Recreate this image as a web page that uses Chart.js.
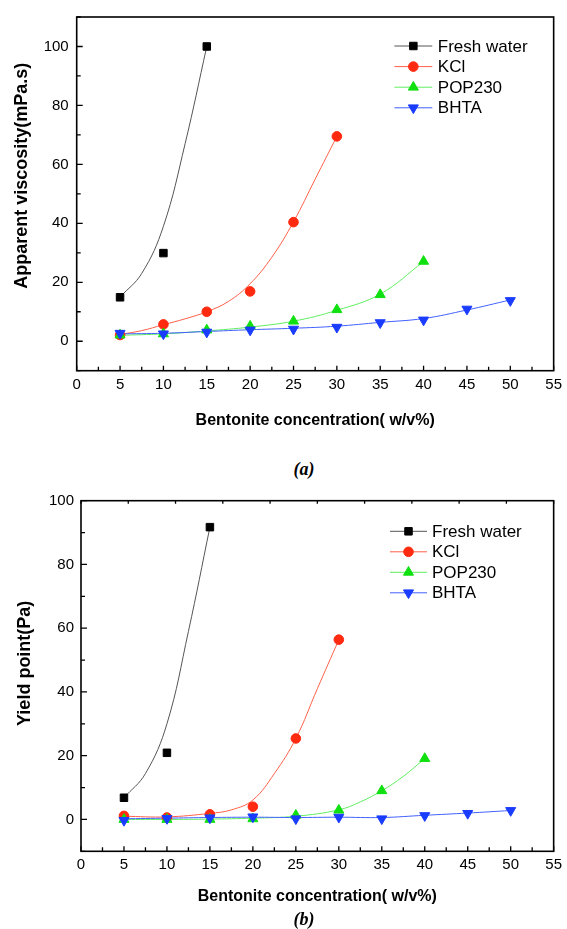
<!DOCTYPE html>
<html>
<head>
<meta charset="utf-8">
<script src="https://cdn.jsdelivr.net/npm/chart.js@4.4.0/dist/chart.umd.min.js"></script>
<style>
  body { margin: 0; background: #fff; width: 567px; height: 929px; position: relative; overflow: hidden; }
  canvas { position: absolute; left: 0; }
  #chartA { top: 0; }
  #chartB { top: 480px; }
  .cap { position: absolute; font: italic bold 18px "Liberation Serif", "Times New Roman", serif; transform: translateX(-50%); }
</style>
</head>
<body>
<canvas id="chartA" width="567" height="445" style="width:567px;height:445px"></canvas>
<canvas id="chartB" width="567" height="449" style="width:567px;height:449px"></canvas>
<div class="cap" style="left:304px;top:459px">(a)</div>
<div class="cap" style="left:304px;top:909px">(b)</div>
<script>
const seriesNames = ["Fresh water", "KCl", "POP230", "BHTA"];

// bentonite concentration (w/v%) for each fluid
const freshConc = [5, 10, 15];
const kclConc = [5, 10, 15, 20, 25, 30];
const popConc = [5, 10, 15, 20, 25, 30, 35, 40];
const bhtaConc = [5, 10, 15, 20, 25, 30, 35, 40, 45, 50];

// (a) apparent viscosity, mPa.s
const viscFresh = [14.9, 29.9, 100];
const viscKcl = [2.1, 5.7, 10, 16.9, 40.4, 69.5];
const viscPop = [2.1, 2.5, 3.8, 5.1, 6.8, 10.7, 15.8, 27.1];
const viscBhta = [2.7, 2.5, 3.1, 3.8, 4.1, 4.75, 6.3, 7.2, 10.9, 13.8];

// (a) fitted curves
const viscFreshFitX = [5, 7.5, 10, 12.5, 15];
const viscFreshFitY = [15, 23, 39, 67, 100];
const viscKclFitX = [5, 7.5, 10, 12.5, 15, 17.5, 20, 22.5, 25, 27.5, 30];
const viscKclFitY = [2.3, 3.6, 5.6, 7.6, 10, 13.5, 19.5, 28.5, 40.5, 55, 69.5];
const viscPopFitX = [5, 10, 15, 20, 25, 30, 35, 40];
const viscPopFitY = [2, 2.5, 3.5, 4.8, 6.8, 10.5, 16, 27];
const viscBhtaFitX = [5, 10, 15, 20, 25, 30, 35, 40, 45, 50];
const viscBhtaFitY = [2.5, 2.7, 3.3, 3.9, 4.4, 5.1, 6.4, 7.7, 10.6, 14];

// (b) yield point, Pa
const yieldFresh = [6.8, 20.9, 91.7];
const yieldKcl = [1.1, 0.6, 1.6, 4.0, 25.4, 56.4];
const yieldPop = [0, 0, 0, 0.2, 1.3, 2.9, 9.0, 19.1];
const yieldBhta = [-0.3, 0.3, 0.5, 0.8, 0.2, 0.7, 0.2, 1.2, 1.9, 2.8];

const yieldFreshFitX = [5, 7.5, 10, 12.5, 15];
const yieldFreshFitY = [6.8, 14.4, 30, 59, 91.7];
const yieldKclFitX = [5, 10, 15, 17.5, 20, 22.5, 25, 27.5, 30];
const yieldKclFitY = [1.0, 0.8, 1.9, 3.0, 6.1, 14.4, 25.4, 41.0, 56.4];
const yieldPopFitX = [5, 10, 15, 20, 25, 30, 32.5, 35, 37.5, 40];
const yieldPopFitY = [0, 0, 0.1, 0.4, 1.0, 3.0, 5.5, 9.0, 13.5, 19.1];
const yieldBhtaFitX = [5, 10, 15, 20, 25, 30, 35, 40, 45, 50];
const yieldBhtaFitY = [0.2, 0.4, 0.6, 0.7, 0.6, 0.7, 0.6, 1.3, 2.0, 2.8];

const markerColors = ["#000000", "#ff2a10", "#10e010", "#1a3cff"];
const lineColors = ["#555555", "#ff6048", "#60ee60", "#4060ff"];
const markerStyles = ["rect", "circle", "triangle", "triangle"];
const markerRadius = [5.3, 4.8, 5.8, 5.8];
const markerRotation = [0, 0, 0, 180];

const FONT = '"Liberation Sans", Arial, sans-serif';

function zip(xs, ys) {
    return xs.map((x, i) => ({x, y: ys[i]}));
}

// draws box, inward ticks, y title and legend
const framePlugin = {
    id: 'frame',
    afterDraw(chart, args, opts) {
        const ctx = chart.ctx;
        const {left, right, top, bottom} = chart.chartArea;
        const xs = chart.scales.x, ys = chart.scales.y;
        ctx.save();
        ctx.strokeStyle = '#000';
        ctx.lineWidth = 1.6;
        ctx.strokeRect(left, top, right - left, bottom - top);

        ctx.lineWidth = 1.3;
        ctx.beginPath();
        xs.ticks.forEach((t) => {
            const px = xs.getPixelForValue(t.value);
            const len = t.value % 5 === 0 ? 5 : 4;
            ctx.moveTo(px, bottom);
            ctx.lineTo(px, bottom - len);
        });
        ys.ticks.forEach((t) => {
            const py = ys.getPixelForValue(t.value);
            const len = t.value % 20 === 0 ? 6 : 4;
            ctx.moveTo(left, py);
            ctx.lineTo(left + len, py);
        });
        if (opts.topTicks) {
            for (let v = 0; v <= 55.01; v += 5.5) {
                const px = xs.getPixelForValue(v);
                ctx.moveTo(px, top);
                ctx.lineTo(px, top + 3);
            }
        }
        ctx.stroke();

        // y axis title
        ctx.save();
        ctx.translate(opts.yTitleX, opts.yTitleY);
        ctx.rotate(-Math.PI / 2);
        ctx.font = 'bold 18px ' + FONT;
        ctx.fillStyle = '#000';
        ctx.textAlign = 'center';
        ctx.textBaseline = 'middle';
        ctx.fillText(opts.yTitle, 0, 0);
        ctx.restore();

        // legend
        const lg = opts.legend;
        ctx.font = '17px ' + FONT;
        ctx.textBaseline = 'middle';
        ctx.textAlign = 'left';
        seriesNames.forEach((name, i) => {
            const y = lg.y0 + i * lg.gap;
            ctx.strokeStyle = lineColors[i];
            ctx.lineWidth = 1;
            ctx.beginPath();
            ctx.moveTo(lg.x0, y);
            ctx.lineTo(lg.x1, y);
            ctx.stroke();
            ctx.fillStyle = markerColors[i];
            ctx.strokeStyle = markerColors[i];
            Chart.helpers.drawPoint(ctx, {
                pointStyle: markerStyles[i], radius: markerRadius[i],
                rotation: markerRotation[i], borderWidth: 1
            }, (lg.x0 + lg.x1) / 2, y);
            ctx.fillStyle = '#000';
            ctx.fillText(name, lg.textX, y + 1);
        });
        ctx.restore();
    }
};

function buildChart(id, p) {
    const datasets = [];
    // markers first so they are drawn on top, BHTA on top of the others
    for (let i = 3; i >= 0; i--) {
        datasets.push({
            data: zip(p.conc[i], p.values[i]),
            showLine: false,
            pointStyle: markerStyles[i],
            pointRadius: markerRadius[i],
            pointRotation: markerRotation[i],
            backgroundColor: markerColors[i],
            borderColor: markerColors[i],
            borderWidth: 1
        });
    }
    for (let i = 3; i >= 0; i--) {
        datasets.push({
            data: zip(p.fitX[i], p.fitY[i]),
            showLine: true,
            pointRadius: 0,
            borderColor: lineColors[i],
            borderWidth: 1,
            tension: 0.4
        });
    }

    return new Chart(document.getElementById(id), {
        type: 'scatter',
        data: {datasets},
        options: {
            responsive: false,
            animation: false,
            devicePixelRatio: 1,
            layout: {padding: {left: 0, right: p.padRight, top: p.padTop, bottom: 0}},
            plugins: {
                legend: {display: false},
                tooltip: {enabled: false},
                frame: {yTitle: p.yTitle, yTitleX: p.yTitleX, yTitleY: p.yTitleY, legend: p.legend, topTicks: p.topTicks}
            },
            scales: {
                x: {
                    type: 'linear', min: 0, max: 55,
                    grid: {display: false, drawTicks: false},
                    border: {display: false},
                    afterFit: (s) => { s.height = p.xAxisHeight; },
                    ticks: {
                        stepSize: 2.5, autoSkip: false, maxRotation: 0, padding: 5,
                        color: '#000', font: {family: FONT, size: 15},
                        callback: (v) => v % 5 === 0 ? String(v) : ''
                    },
                    title: {
                        display: true, text: 'Bentonite concentration( w/v%)', color: '#000',
                        font: {family: FONT, size: 16, weight: 'bold'},
                        padding: {top: 0, bottom: p.xTitlePad}
                    }
                },
                y: {
                    type: 'linear', min: -10, max: p.yMax,
                    grid: {display: false, drawTicks: false},
                    border: {display: false},
                    afterFit: (s) => { s.width = p.yAxisWidth; },
                    ticks: {
                        stepSize: 10, padding: p.yTickPad,
                        color: '#000', font: {family: FONT, size: 15},
                        callback: (v) => v % 20 === 0 ? String(v) : ''
                    }
                }
            }
        },
        plugins: [framePlugin]
    });
}

buildChart('chartA', {
    conc: [freshConc, kclConc, popConc, bhtaConc],
    values: [viscFresh, viscKcl, viscPop, viscBhta],
    fitX: [viscFreshFitX, viscKclFitX, viscPopFitX, viscBhtaFitX],
    fitY: [viscFreshFitY, viscKclFitY, viscPopFitY, viscBhtaFitY],
    yMax: 110, padTop: 16, padRight: 7.3, yAxisWidth: 76.7, xAxisHeight: 74.3,
    yTickPad: 8, xTitlePad: 14.7, topTicks: false,
    yTitle: 'Apparent viscosity(mPa.s)', yTitleX: 22.4, yTitleY: 175.8,
    legend: {x0: 394.4, x1: 432.3, textX: 437.8, y0: 46, gap: 20.6}
});

buildChart('chartB', {
    conc: [freshConc, kclConc, popConc, bhtaConc],
    values: [yieldFresh, yieldKcl, yieldPop, yieldBhta],
    fitX: [yieldFreshFitX, yieldKclFitX, yieldPopFitX, yieldBhtaFitX],
    fitY: [yieldFreshFitY, yieldKclFitY, yieldPopFitY, yieldBhtaFitY],
    yMax: 100, padTop: 20.7, padRight: 12.4, yAxisWidth: 81, xAxisHeight: 77.7,
    yTickPad: 7, xTitlePad: 22.7, topTicks: true,
    yTitle: 'Yield point(Pa)', yTitleX: 24.6, yTitleY: 183.3,
    legend: {x0: 390, x1: 427, textX: 432, y0: 51.3, gap: 20.5}
});
</script>
</body>
</html>
